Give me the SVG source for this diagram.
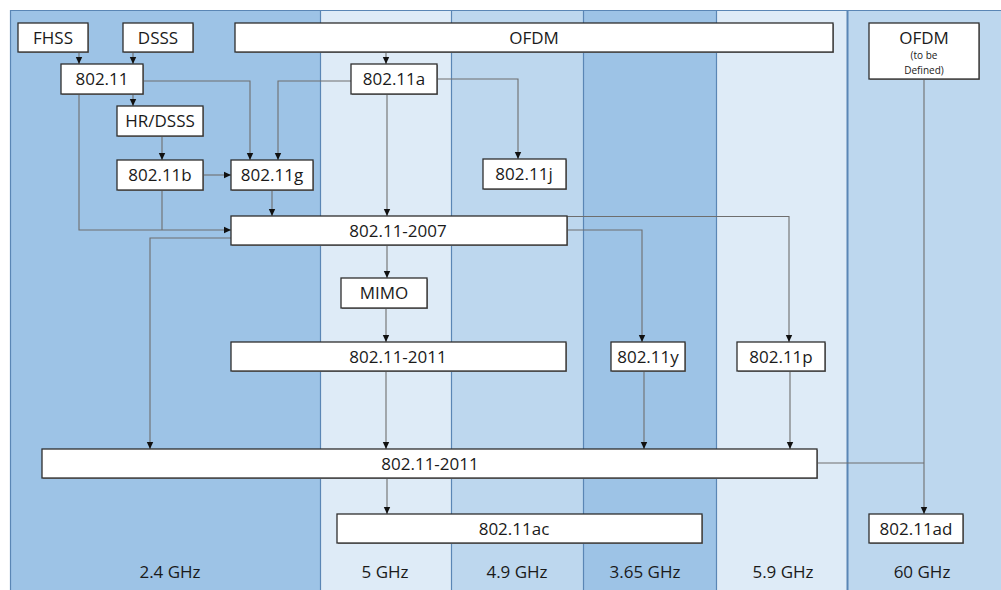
<svg xmlns="http://www.w3.org/2000/svg" width="1001" height="590" viewBox="0 0 1001 590">
<defs>
<style>
.col1{fill:#9dc3e6}.col2{fill:#bdd7ee}.col3{fill:#deebf7}
.sep{stroke:#5a86b5;stroke-width:1.2;fill:none}
.box{fill:#fff;stroke:#2f2f2f;stroke-width:1.3}
.sh{fill:#8a8a8a}
.t{font-family:"Open Sans","Liberation Sans",sans-serif;font-size:17px;fill:#1a1a1a;text-anchor:middle}
.s{font-family:"Open Sans","Liberation Sans",sans-serif;font-size:10px;fill:#1a1a1a;text-anchor:middle}
.c{fill:none;stroke:#6e6e6e;stroke-width:1.1}
</style>
<marker id="ar" markerUnits="userSpaceOnUse" markerWidth="8" markerHeight="8" viewBox="0 0 8 8" refX="7" refY="4" orient="auto">
<path d="M0,0.8 L7,4 L0,7.2 Z" fill="#111"/>
</marker>
</defs>
<rect width="1001" height="590" fill="#fff"/>
<g id="columns">
<rect class="col1" x="10" y="10" width="310" height="580"/>
<rect class="col3" x="320" y="10" width="131" height="580"/>
<rect class="col2" x="451" y="10" width="132" height="580"/>
<rect class="col1" x="583" y="10" width="133" height="580"/>
<rect class="col3" x="716" y="10" width="131" height="580"/>
<rect class="col2" x="847" y="10" width="154" height="580"/>
<path class="sep" d="M10.5,590 V10.5 H1001 M320.5,10 V590 M451.5,10 V590 M583.5,10 V590 M716.5,10 V590"/>
<path d="M847.5,10 V590" stroke="#5a86b5" stroke-width="2" fill="none"/>
<text class="t" x="170" y="578">2.4 GHz</text>
<text class="t" x="385" y="578">5 GHz</text>
<text class="t" x="517" y="578">4.9 GHz</text>
<text class="t" x="645" y="578">3.65 GHz</text>
<text class="t" x="783" y="578">5.9 GHz</text>
<text class="t" x="922" y="578">60 GHz</text>
</g>
<g id="connectors">
<path class="c" d="M79,52 V64" marker-end="url(#ar)"/>
<path class="c" d="M133,52 V64" marker-end="url(#ar)"/>
<path class="c" d="M133,94 V106" marker-end="url(#ar)"/>
<path class="c" d="M162,136 V160" marker-end="url(#ar)"/>
<path class="c" d="M203,175 H231" marker-end="url(#ar)"/>
<path class="c" d="M143,81 H250 V160" marker-end="url(#ar)"/>
<path class="c" d="M351,81 H278 V160" marker-end="url(#ar)"/>
<path class="c" d="M272,190 V216" marker-end="url(#ar)"/>
<path class="c" d="M79,94 V230 H231" marker-end="url(#ar)"/>
<path class="c" d="M162,190 V230"/>
<path class="c" d="M386,52 V64" marker-end="url(#ar)"/>
<path class="c" d="M437,79 H518 V159" marker-end="url(#ar)"/>
<path class="c" d="M387,94 V216" marker-end="url(#ar)"/>
<path class="c" d="M387,245 V278" marker-end="url(#ar)"/>
<path class="c" d="M386,308 V342" marker-end="url(#ar)"/>
<path class="c" d="M567,230 H642 V342" marker-end="url(#ar)"/>
<path class="c" d="M567,216.5 H789 V342" marker-end="url(#ar)"/>
<path class="c" d="M231,238 H150 V449" marker-end="url(#ar)"/>
<path class="c" d="M386,371 V449" marker-end="url(#ar)"/>
<path class="c" d="M644,371 V449" marker-end="url(#ar)"/>
<path class="c" d="M790,371 V449" marker-end="url(#ar)"/>
<path class="c" d="M387,478 V514" marker-end="url(#ar)"/>
<path class="c" d="M924,80 V514" marker-end="url(#ar)"/>
<path class="c" d="M817,463 H924"/>
</g>
<g id="n-fhss"><rect class="sh" x="19" y="24" width="70" height="29"/><rect class="box" x="18" y="23" width="70" height="29"/><text class="t" x="53" y="44">FHSS</text></g>
<g id="n-dsss"><rect class="sh" x="124" y="24" width="70" height="29"/><rect class="box" x="123" y="23" width="70" height="29"/><text class="t" x="158" y="44">DSSS</text></g>
<g id="n-ofdm"><rect class="sh" x="236" y="24" width="598" height="29"/><rect class="box" x="235" y="23" width="598" height="29"/><text class="t" x="534" y="44">OFDM</text></g>
<g id="n-ofdm60"><rect class="sh" x="870" y="24" width="110" height="56"/><rect class="box" x="869" y="23" width="110" height="56"/><text class="t" x="924" y="44">OFDM</text><text class="s" x="924" y="59">(to be</text><text class="s" x="924" y="74">Defined)</text></g>
<g id="n-80211"><rect class="sh" x="62" y="65" width="82" height="30"/><rect class="box" x="61" y="64" width="82" height="30"/><text class="t" x="102" y="85">802.11</text></g>
<g id="n-80211a"><rect class="sh" x="352" y="65" width="86" height="30"/><rect class="box" x="351" y="64" width="86" height="30"/><text class="t" x="394" y="85">802.11a</text></g>
<g id="n-hrdsss"><rect class="sh" x="118" y="107" width="86" height="30"/><rect class="box" x="117" y="106" width="86" height="30"/><text class="t" x="160" y="127">HR/DSSS</text></g>
<g id="n-80211b"><rect class="sh" x="118" y="161" width="86" height="30"/><rect class="box" x="117" y="160" width="86" height="30"/><text class="t" x="160" y="181">802.11b</text></g>
<g id="n-80211g"><rect class="sh" x="232" y="161" width="82" height="30"/><rect class="box" x="231" y="160" width="82" height="30"/><text class="t" x="272" y="181">802.11g</text></g>
<g id="n-80211j"><rect class="sh" x="484" y="160" width="83" height="30"/><rect class="box" x="483" y="159" width="83" height="30"/><text class="t" x="524" y="180">802.11j</text></g>
<g id="n-2007"><rect class="sh" x="232" y="217" width="336" height="29"/><rect class="box" x="231" y="216" width="336" height="29"/><text class="t" x="398" y="237">802.11-2007</text></g>
<g id="n-mimo"><rect class="sh" x="342" y="279" width="86" height="30"/><rect class="box" x="341" y="278" width="86" height="30"/><text class="t" x="384" y="299">MIMO</text></g>
<g id="n-2011a"><rect class="sh" x="232" y="343" width="335" height="29"/><rect class="box" x="231" y="342" width="335" height="29"/><text class="t" x="398" y="363">802.11-2011</text></g>
<g id="n-80211y"><rect class="sh" x="612" y="343" width="74" height="29"/><rect class="box" x="611" y="342" width="74" height="29"/><text class="t" x="648" y="363">802.11y</text></g>
<g id="n-80211p"><rect class="sh" x="738" y="343" width="88" height="29"/><rect class="box" x="737" y="342" width="88" height="29"/><text class="t" x="781" y="363">802.11p</text></g>
<g id="n-2011b"><rect class="sh" x="43" y="450" width="775" height="29"/><rect class="box" x="42" y="449" width="775" height="29"/><text class="t" x="430" y="470">802.11-2011</text></g>
<g id="n-80211ac"><rect class="sh" x="338" y="515" width="365" height="29"/><rect class="box" x="337" y="514" width="365" height="29"/><text class="t" x="514" y="535">802.11ac</text></g>
<g id="n-80211ad"><rect class="sh" x="870" y="515" width="94" height="29"/><rect class="box" x="869" y="514" width="94" height="29"/><text class="t" x="916" y="535">802.11ad</text></g>
</svg>
